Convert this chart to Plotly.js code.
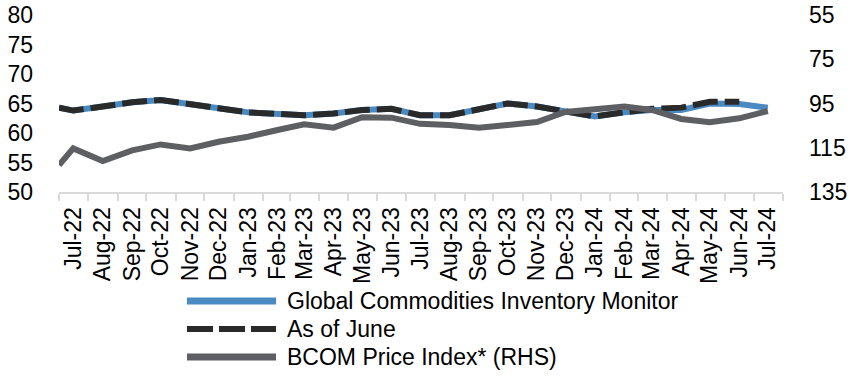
<!DOCTYPE html>
<html>
<head>
<meta charset="utf-8">
<script src="https://cdn.plot.ly/plotly-3.0.1.min.js"></script>
<style>
  html, body { margin: 0; padding: 0; background: #fff; }
  #chart { width: 852px; height: 380px; }
</style>
</head>
<body>
<div id="chart"></div>
<script>
// ---- Data ----
const monthLabels = ['Jul-22','Aug-22','Sep-22','Oct-22','Nov-22','Dec-22','Jan-23','Feb-23','Mar-23','Apr-23','May-23','Jun-23','Jul-23','Aug-23','Sep-23','Oct-23','Nov-23','Dec-23','Jan-24','Feb-24','Mar-24','Apr-24','May-24','Jun-24','Jul-24'];
const labelDates = ['2022-07-16','2022-08-16','2022-09-16','2022-10-16','2022-11-16','2022-12-16','2023-01-16','2023-02-16','2023-03-16','2023-04-16','2023-05-16','2023-06-16','2023-07-16','2023-08-16','2023-09-16','2023-10-16','2023-11-16','2023-12-16','2024-01-16','2024-02-16','2024-03-16','2024-04-16','2024-05-16','2024-06-16','2024-07-16'];
const pointDates = ['2022-07-01','2022-07-16','2022-08-16','2022-09-16','2022-10-16','2022-11-16','2022-12-16','2023-01-16','2023-02-16','2023-03-16','2023-04-16','2023-05-16','2023-06-16','2023-07-16','2023-08-16','2023-09-16','2023-10-16','2023-11-16','2023-12-16','2024-01-16','2024-02-16','2024-03-16','2024-04-16','2024-05-16','2024-06-16','2024-07-16'];
const gcimValues = [64.3, 63.8, 64.5, 65.2, 65.6, 65.0, 64.2, 63.5, 63.2, 63.0, 63.3, 63.9, 64.1, 63.0, 63.0, 63.9, 65.0, 64.5, 63.6, 62.8, 63.5, 63.9, 63.9, 65.0, 64.9, 64.3];
const asOfJuneValues = [64.3, 63.8, 64.5, 65.2, 65.6, 65.0, 64.2, 63.5, 63.2, 63.0, 63.3, 63.9, 64.1, 63.0, 63.0, 63.9, 65.0, 64.5, 63.6, 62.8, 63.5, 64.1, 64.3, 65.3, 65.3, null];
const bcomValues = [122.8, 115.3, 121.0, 116.2, 113.5, 115.3, 112.3, 110.0, 107.0, 104.4, 105.9, 101.2, 101.4, 104.2, 104.7, 106.0, 104.7, 103.4, 98.8, 97.6, 96.4, 97.9, 102.0, 103.5, 101.7, 98.4];
const seriesNames = ['Global Commodities Inventory Monitor', 'As of June', 'BCOM Price Index* (RHS)'];
const leftTicks = [50, 55, 60, 65, 70, 75, 80];
const rightTicks = [55, 75, 95, 115, 135];

// ---- Styles ----
const FONT = "'Liberation Sans Narrow', 'Arial Narrow', 'Liberation Sans', Arial, sans-serif";
const FS = 23;
const BLUE = '#4a8ac3';
const DARK = '#2a2a2a';
const GREY = '#5e5f63';
const DASH = '25px,7px';

// plot area in pixels (for legend placement helpers)
const W = 852, H = 380;
const M = { l: 59, r: 69, t: 15, b: 188 };
const PW = W - M.l - M.r, PH = H - M.t - M.b;
const px2x = p => (p - M.l) / PW;
const px2y = p => (H - M.b - p) / PH;

const traces = [
  { x: pointDates, y: gcimValues, name: seriesNames[0], type: 'scatter', mode: 'lines',
    line: { color: BLUE, width: 6 }, showlegend: false, yaxis: 'y' },
  { x: pointDates, y: asOfJuneValues, name: seriesNames[1], type: 'scatter', mode: 'lines',
    line: { color: DARK, width: 6, dash: DASH }, showlegend: false, yaxis: 'y' },
  { x: pointDates, y: bcomValues, name: seriesNames[2], type: 'scatter', mode: 'lines',
    line: { color: GREY, width: 6 }, showlegend: false, yaxis: 'y2' }
];

// custom legend (long line samples as in the reference)
const legendRows = [301, 329, 357];
const legendStyles = [
  { color: BLUE, width: 7, dash: 'solid' },
  { color: DARK, width: 6, dash: '26px,6px' },
  { color: GREY, width: 7, dash: 'solid' }
];
const shapes = legendRows.map((py, i) => ({
  type: 'line', xref: 'paper', yref: 'paper',
  x0: px2x(187), x1: px2x(276), y0: px2y(py), y1: px2y(py),
  line: legendStyles[i]
}));
const annotations = legendRows.map((py, i) => ({
  xref: 'paper', yref: 'paper', x: px2x(285), y: px2y(py),
  xanchor: 'left', yanchor: 'middle', showarrow: false,
  text: seriesNames[i], font: { family: FONT, size: FS, color: '#000' }
}));

const layout = {
  width: W, height: H,
  margin: M,
  paper_bgcolor: '#fff', plot_bgcolor: '#fff',
  font: { family: FONT, size: FS, color: '#000' },
  showlegend: false,
  xaxis: {
    type: 'date',
    range: ['2022-07-01', '2024-08-01'],
    tickmode: 'array', tickvals: labelDates, ticktext: monthLabels,
    tickangle: -90, ticks: '', ticklabelstandoff: 4,
    showline: true, linecolor: '#d9d9d9', linewidth: 2,
    showgrid: false, zeroline: false,
    minor: { ticks: 'outside', ticklen: 7, tickwidth: 2, tickcolor: '#d9d9d9',
             dtick: 'M1', tick0: '2022-07-01', showgrid: false },
    tickfont: { family: FONT, size: FS, color: '#000' }
  },
  yaxis: {
    range: [50, 80], tickmode: 'array', tickvals: leftTicks,
    ticks: '', showline: false, showgrid: false, zeroline: false,
    ticklabelstandoff: 25,
    tickfont: { family: FONT, size: FS, color: '#000' }
  },
  yaxis2: {
    overlaying: 'y', side: 'right',
    range: [135, 55], tickmode: 'array', tickvals: rightTicks,
    ticks: '', showline: false, showgrid: false, zeroline: false,
    ticklabelstandoff: 25,
    tickfont: { family: FONT, size: FS, color: '#000' }
  },
  shapes: shapes,
  annotations: annotations
};

Plotly.newPlot('chart', traces, layout, { displayModeBar: false, staticPlot: true });
</script>
</body>
</html>
